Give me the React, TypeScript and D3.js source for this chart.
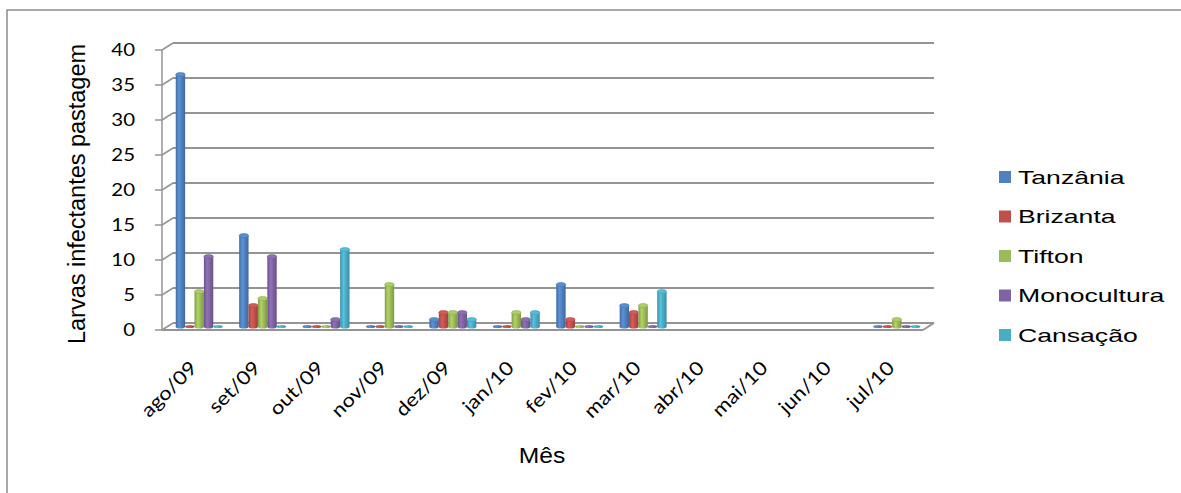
import React from "react";
import * as d3 from "d3";

const categories = ["ago/09", "set/09", "out/09", "nov/09", "dez/09", "jan/10", "fev/10", "mar/10", "abr/10", "mai/10", "jun/10", "jul/10"];
const seriesNames = ["Tanzânia", "Brizanta", "Tifton", "Monocultura", "Cansação"];
const tanzania = [36, 13, 0, 0, 1, 0, 6, 3, null, null, null, 0];
const brizanta = [0, 3, 0, 0, 2, 0, 1, 2, null, null, null, 0];
const tifton = [5, 4, 0, 6, 2, 2, 0, 3, null, null, null, 1];
const monocultura = [10, 10, 1, 0, 2, 1, 0, 0, null, null, null, 0];
const cansacao = [0, 0, 11, 0, 1, 2, 0, 5, null, null, null, 0];
const yTicks = [0, 5, 10, 15, 20, 25, 30, 35, 40];
const colors = ["#4F81BD", "#C0504D", "#9BBB59", "#8064A2", "#4BACC6"];

const seriesValues = [tanzania, brizanta, tifton, monocultura, cansacao];

export default function App() {
  const W = 1181, H = 493;
  const fx0 = 162, fx1 = 923; // front floor x
  const dx = 11, dy = -7; // depth offset
  const yF = d3.scaleLinear().domain([0, 40]).range([330, 50]);
  const midDx = dx / 2, midDy = dy / 2;
  const xBand = d3.scaleBand<string>().domain(categories).range([fx0 + midDx, fx1 + midDx]).paddingInner(0.26).paddingOuter(0.13);
  const xInner = d3.scaleBand<string>().domain(seriesNames).range([0, xBand.bandwidth()]).padding(0);
  const bw = xInner.bandwidth();
  const baseY = yF(0) + midDy;
  const grid = "#949494";

  return (
    <svg width={W} height={H} style={{ position: "absolute", left: 0, top: 0, background: "#fff" }}>
      <defs>
        {colors.map((c, i) => (
          <linearGradient key={i} id={"g" + i} x1="0" x2="1" y1="0" y2="0">
            <stop offset="0" stopColor={d3.color(c)!.darker(0.5).toString()} />
            <stop offset="0.35" stopColor={d3.color(c)!.brighter(0.35).toString()} />
            <stop offset="1" stopColor={d3.color(c)!.darker(0.6).toString()} />
          </linearGradient>
        ))}
      </defs>
      <rect x={7} y={10} width={1190} height={520} fill="none" stroke="#8c8c8c" strokeWidth={1.5} />

      {/* back wall gridlines and left wall */}
      {yTicks.map((t) => (
        <g key={t}>
          <line x1={fx0 + dx} x2={fx1 + dx} y1={yF(t) + dy} y2={yF(t) + dy} stroke={grid} strokeWidth={2.2} />
          <line x1={fx0} x2={fx0 + dx} y1={yF(t)} y2={yF(t) + dy} stroke={grid} strokeWidth={1.5} />
          <line x1={fx0 - 7} x2={fx0} y1={yF(t)} y2={yF(t)} stroke={grid} strokeWidth={1.5} />
          <text x={135} y={yF(t)} dy="0.35em" textAnchor="end" fontFamily="Lato" fontSize={17} fill="#000" transform={`translate(135,0) scale(1.2,1) translate(-135,0)`}>
            {t}
          </text>
        </g>
      ))}
      {/* left axis */}
      <line x1={fx0} x2={fx0} y1={yF(40)} y2={yF(0)} stroke={grid} strokeWidth={1.5} />
      {/* floor */}
      <line x1={fx0} x2={fx1} y1={yF(0)} y2={yF(0)} stroke={grid} strokeWidth={2.2} />
      <line x1={fx1} x2={fx1 + dx} y1={yF(0)} y2={yF(0) + dy} stroke={grid} strokeWidth={2} />

      {/* bars */}
      {categories.map((cat, ci) => (
        <g key={cat}>
          {seriesValues.map((vals, si) => {
            const v = vals[ci];
            if (v === null || v === undefined) return null;
            const x = xBand(cat)! + xInner(seriesNames[si])!;
            const top = yF(v) + midDy;
            const ry = 2;
            const cx = x + bw / 2;
            const col = colors[si];
            if (v === 0) {
              return <ellipse key={si} cx={cx} cy={baseY} rx={bw / 2} ry={1.6} fill={`url(#g${si})`} />;
            }
            return (
              <g key={si}>
                <ellipse cx={cx} cy={baseY} rx={bw / 2} ry={ry} fill={`url(#g${si})`} />
                <rect x={x} y={top} width={bw} height={baseY - top} fill={`url(#g${si})`} />
                <ellipse cx={cx} cy={top} rx={bw / 2} ry={ry} fill={d3.color(col)!.brighter(0.3).toString()} stroke={d3.color(col)!.darker(0.3).toString()} strokeWidth={0.6} />
              </g>
            );
          })}
          <text
            x={0}
            y={0}
            textAnchor="end"
            fontFamily="Lato"
            fontSize={19}
            fill="#000"
            transform={`translate(${xBand(cat)! + xBand.bandwidth() / 2 - 1},369) rotate(-45) scale(1.15,1)`}
          >
            {cat}
          </text>
        </g>
      ))}

      {/* y title */}
      <text transform="translate(85,194) rotate(-90)" textAnchor="middle" fontFamily="Liberation Sans, Arial" fontSize={23} fill="#000" textLength={300} lengthAdjust="spacingAndGlyphs">
        Larvas infectantes pastagem
      </text>
      {/* x title */}
      <text transform="translate(542,463) scale(1.12,1)" textAnchor="middle" fontFamily="Liberation Sans, Arial" fontSize={22} fill="#000">
        Mês
      </text>

      {/* legend */}
      {seriesNames.map((n, i) => {
        const y = 177 + i * 39.5;
        return (
          <g key={n}>
            <rect x={999} y={y - 6} width={12} height={12} fill={colors[i]} />
            <text transform={`translate(1018,${y}) scale(1.4,1)`} dy="0.35em" fontFamily="Liberation Sans, Arial" fontSize={19} fill="#000">
              {n}
            </text>
          </g>
        );
      })}
    </svg>
  );
}
